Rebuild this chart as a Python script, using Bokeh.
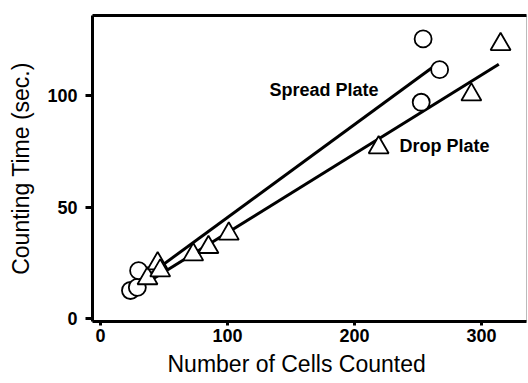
from bokeh.plotting import figure
from bokeh.models import LinearAxis, FixedTicker, Range1d, Title
from bokeh.core.properties import value
from bokeh.embed import file_html
from bokeh.resources import INLINE

# Spread plate data (circles)
spread_x = [23.6, 29, 30, 254, 267, 252.5]
spread_y = [12.6, 14, 21.5, 125.4, 111.6, 97]
# Drop plate data (triangles)
drop_x = [37, 45, 47, 73, 85, 101, 219, 292, 315]
drop_y = [18, 24.7, 21.5, 28.7, 32, 38, 76.7, 100.4, 123]
# regression lines (endpoints)
spread_fit_x = [38, 261]
spread_fit_y = [19.5, 112.5]
drop_fit_x = [39, 313.6]
drop_fit_y = [17, 114]

x_ticks = [0, 100, 200, 300]
y_ticks = [0, 50, 100]

FONT = "Liberation Sans"

p = figure(width=528, height=383, output_backend="svg", toolbar_location=None,
           x_range=Range1d(-6.3, 335.4), y_range=Range1d(-1.3, 135.9),
           min_border_left=92, min_border_right=2, min_border_top=15, min_border_bottom=62)
p.xgrid.visible = False
p.ygrid.visible = False
p.outline_line_color = "#bbbbbb"
p.outline_line_width = 1
p.background_fill_color = "white"
p.border_fill_color = "white"

for ax in (p.xaxis[0], p.yaxis[0]):
    ax.axis_line_width = 3
    ax.axis_line_color = "black"
    ax.major_tick_line_width = 3
    ax.major_tick_in = 0
    ax.minor_tick_line_color = None
    ax.major_label_text_font = FONT
    ax.major_label_text_font_style = "bold"
    ax.major_label_text_font_size = "18px"
    ax.major_label_text_color = "black"
    ax.axis_label_text_font = FONT
    ax.axis_label_text_font_style = "normal"
    ax.axis_label_text_font_size = "23px"
    ax.axis_label_text_color = "black"

p.xaxis[0].ticker = FixedTicker(ticks=x_ticks)
p.yaxis[0].ticker = FixedTicker(ticks=y_ticks)
p.xaxis[0].major_tick_out = 4
p.yaxis[0].major_tick_out = 7
p.xaxis[0].major_label_standoff = 3
p.yaxis[0].major_label_standoff = 8
p.yaxis[0].axis_label = "Counting Time (sec.)"
p.yaxis[0].axis_label_standoff = 10

# x-axis title, placed below the axis
p.add_layout(Title(text="Number of Cells Counted", align="left", offset=75, standoff=8,
                   text_font=FONT, text_font_size="23px", text_font_style="normal",
                   text_color="black"), "below")

top = LinearAxis(ticker=FixedTicker(ticks=[]), axis_line_width=3, axis_line_color="black",
                 major_tick_out=0, major_tick_in=0, minor_tick_out=0, minor_tick_in=0,
                 major_label_text_font_size="0px", major_label_standoff=0)
p.add_layout(top, "above")

p.line(spread_fit_x, spread_fit_y, line_color="black", line_width=3)
p.line(drop_fit_x, drop_fit_y, line_color="black", line_width=3)

p.scatter(spread_x, spread_y, marker="circle", size=17, fill_color="white",
          line_color="black", line_width=1.8)
p.scatter(drop_x, drop_y, marker="triangle", size=20, fill_color="white",
          line_color="black", line_width=1.8)

p.text([133], [102.7], text=["Spread Plate"], text_font=value(FONT), text_font_style="bold",
       text_font_size="18px", text_align="left", text_baseline="middle", text_color="black")
p.text([235.4], [77.6], text=["Drop Plate"], text_font=value(FONT), text_font_style="bold",
       text_font_size="18px", text_align="left", text_baseline="middle", text_color="black")

open("out.html", "w").write(file_html(p, INLINE))
